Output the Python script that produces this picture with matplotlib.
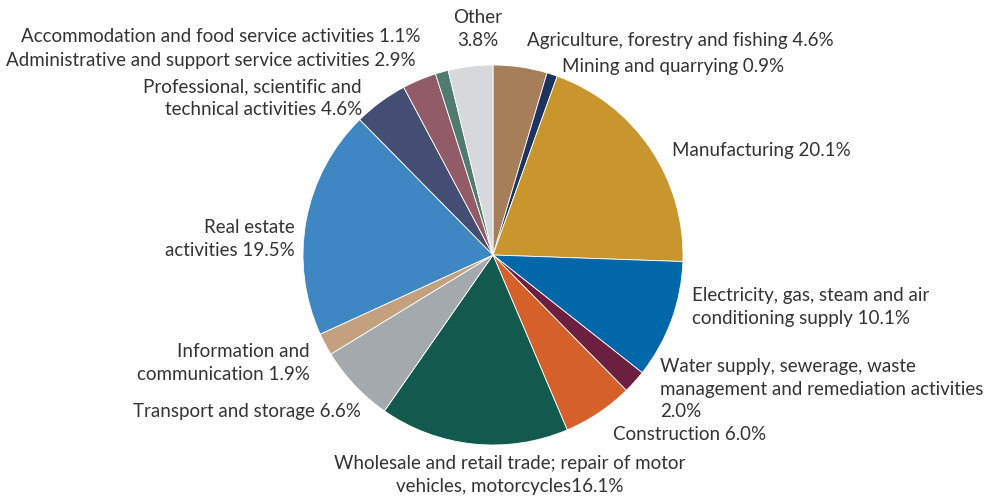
import matplotlib.pyplot as plt

plt.rcParams['font.family'] = ['Lato', 'DejaVu Sans']

# Share of output by sector, %
sectors = [
    "Agriculture, forestry and fishing",
    "Mining and quarrying",
    "Manufacturing",
    "Electricity, gas, steam and air\nconditioning supply",
    "Water supply, sewerage, waste\nmanagement and remediation activities\n",
    "Construction",
    "Wholesale and retail trade; repair of motor\nvehicles, motorcycles",
    "Transport and storage",
    "Information and\ncommunication",
    "Real estate\nactivities",
    "Professional, scientific and\ntechnical activities",
    "Administrative and support service activities",
    "Accommodation and food service activities",
    "Other\n",
]
shares = [4.6, 0.9, 20.1, 10.1, 2.0, 6.0, 16.1, 6.6, 1.9, 19.5, 4.6, 2.9, 1.1, 3.8]
colors = ['#a67f5a', '#1d345f', '#c9952d', '#0067a9', '#6d1f3f', '#d6602a',
          '#135a4e', '#a3a9ad', '#c3a07e', '#3f87c2', '#434e72', '#915b67',
          '#507b70', '#d6d8db']

# label anchor in pixels (x, y from top) and alignment
label_pos = [(527, 40, 'left'), (562, 66, 'left'), (672, 150, 'left'),
             (692, 307, 'left'), (660, 389, 'left'), (613, 434, 'left'),
             (510, 475, 'center'), (361, 411, 'right'), (310, 363, 'right'),
             (295, 239, 'right'), (362, 98, 'right'), (416, 60, 'right'),
             (421, 36, 'right'), (478, 29, 'center')]

W, H = 1003, 498
fig = plt.figure(figsize=(W / 100, H / 100), dpi=100)
ax = fig.add_axes([0, 0, 1, 1])

ax.pie(shares, colors=colors, startangle=90, counterclock=False,
       center=(493, H - 255), radius=190,
       wedgeprops=dict(edgecolor='white', linewidth=0.6))

ax.set_xlim(0, W)
ax.set_ylim(0, H)
ax.set_aspect('equal')
ax.axis('off')

for name, val, (x, y, ha) in zip(sectors, shares, label_pos):
    sep = '' if name.endswith('\n') else ' '
    if name.startswith('Wholesale'):
        sep = ''
    ax.text(x, H - y, f"{name}{sep}{val:.1f}%", ha=ha, va='center',
            multialignment=ha, fontsize=13.5, color='#333333', linespacing=1.38)

fig.savefig('out.png', dpi=100)
